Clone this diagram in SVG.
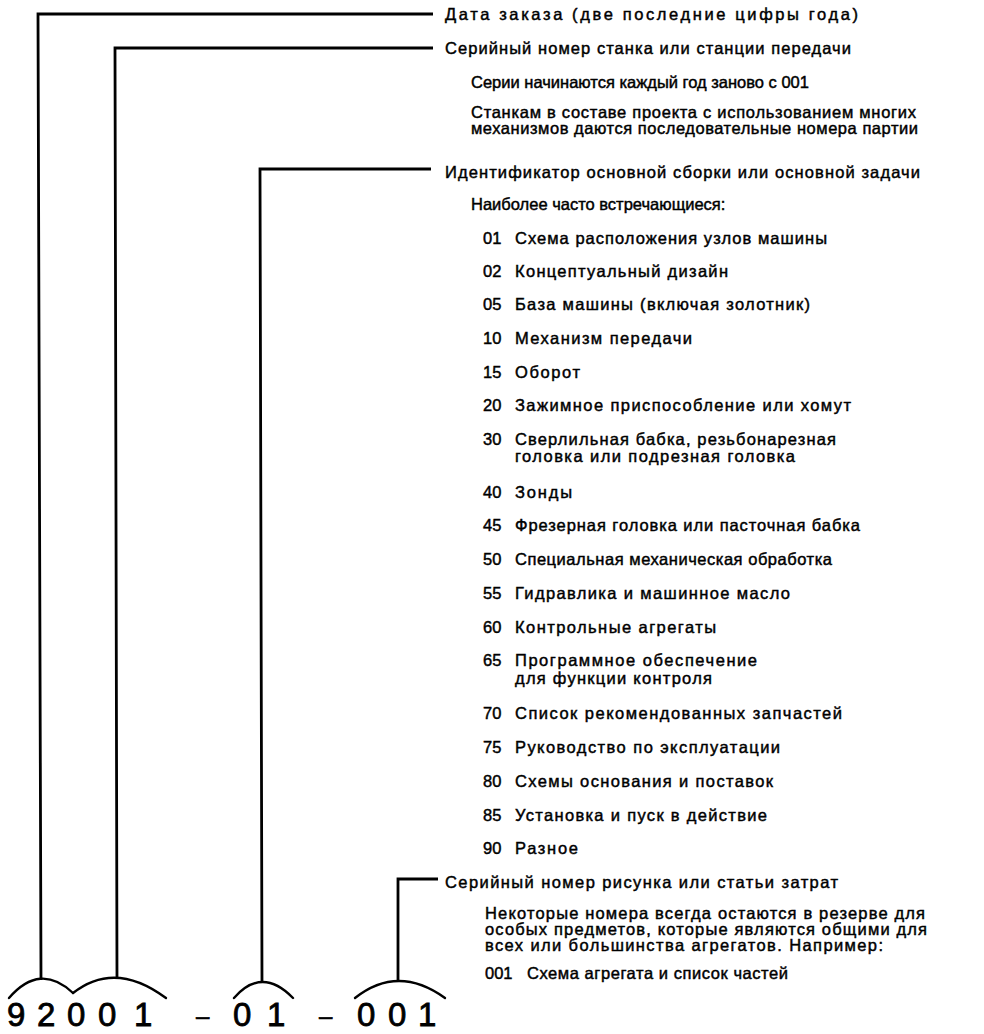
<svg xmlns="http://www.w3.org/2000/svg" width="984" height="1034" viewBox="0 0 984 1034">
  <style>
    .t { font-family: "Liberation Sans", Arial, sans-serif; font-size: 16.5px; fill: #000; stroke: #000; stroke-width: 0.45px; }
    .big { font-family: "Liberation Sans", Arial, sans-serif; font-size: 33px; fill: #000; stroke: #000; stroke-width: 0.8px; }
    .dash { font-family: "Liberation Sans", Arial, sans-serif; font-size: 24px; fill: #000; stroke: #000; stroke-width: 0.6px; }
    .ln { fill: none; stroke: #000; stroke-width: 2.8; stroke-linejoin: miter; stroke-linecap: butt; }
    .arc { fill: none; stroke: #000; stroke-width: 2.4; stroke-linecap: round; }
  </style>
  <rect width="984" height="1034" fill="#fff"/>

  <!-- brackets leading from the code digits to the explanations -->
  <g id="connectors">
    <polyline class="ln" points="433,14 38,14 41,980"/>
    <polyline class="ln" points="433,48 115,48 117,978"/>
    <polyline class="ln" points="431,169 260,169 262,982"/>
    <polyline class="ln" points="438,879 398,879 398,981"/>
    <path class="arc" d="M9,998 Q40,962 73,993"/>
    <path class="arc" d="M73,993 Q115,960 166,998"/>
    <path class="arc" d="M234,998 Q262,966 293,998"/>
    <path class="arc" d="M355,998 Q398,964 445,998"/>
  </g>

  <!-- the code itself -->
  <g id="code">
    <text class="big" x="7 37 67 98 134" y="1026">92001</text>
    <text class="dash" x="196" y="1024">–</text>
    <text class="big" x="233 267" y="1026">01</text>
    <text class="dash" x="319" y="1024">–</text>
    <text class="big" x="357 388 418" y="1026">001</text>
  </g>

  <g id="year">
    <text class="t" x="445" y="20" textLength="413" lengthAdjust="spacing">Дата заказа (две последние цифры года)</text>
  </g>

  <g id="serial">
    <text class="t" x="445" y="54" textLength="406" lengthAdjust="spacing">Серийный номер станка или станции передачи</text>
    <text class="t" x="471" y="88">Серии начинаются каждый год заново с 001</text>
    <text class="t" x="471" y="118" textLength="445" lengthAdjust="spacing">Станкам в составе проекта с использованием многих</text>
    <text class="t" x="471" y="134" textLength="447" lengthAdjust="spacing">механизмов даются последовательные номера партии</text>
  </g>

  <g id="assembly">
    <text class="t" x="445" y="178" textLength="475" lengthAdjust="spacing">Идентификатор основной сборки или основной задачи</text>
    <text class="t" x="471" y="210">Наиболее часто встречающиеся:</text>
    <text class="t" x="483" y="244">01</text><text class="t" x="515" y="244" textLength="312" lengthAdjust="spacing">Схема расположения узлов машины</text>
    <text class="t" x="483" y="277">02</text><text class="t" x="515" y="277" textLength="213" lengthAdjust="spacing">Концептуальный дизайн</text>
    <text class="t" x="483" y="310">05</text><text class="t" x="515" y="310" textLength="295" lengthAdjust="spacing">База машины (включая золотник)</text>
    <text class="t" x="483" y="344">10</text><text class="t" x="515" y="344" textLength="177" lengthAdjust="spacing">Механизм передачи</text>
    <text class="t" x="483" y="378">15</text><text class="t" x="515" y="378" textLength="65" lengthAdjust="spacing">Оборот</text>
    <text class="t" x="483" y="411">20</text><text class="t" x="515" y="411" textLength="336" lengthAdjust="spacing">Зажимное приспособление или хомут</text>
    <text class="t" x="483" y="445">30</text><text class="t" x="515" y="445" textLength="321" lengthAdjust="spacing">Сверлильная бабка, резьбонарезная</text>
    <text class="t" x="515" y="462" textLength="280" lengthAdjust="spacing">головка или подрезная  головка</text>
    <text class="t" x="483" y="498">40</text><text class="t" x="515" y="498" textLength="57" lengthAdjust="spacing">Зонды</text>
    <text class="t" x="483" y="531">45</text><text class="t" x="515" y="531" textLength="345" lengthAdjust="spacing">Фрезерная головка или пасточная бабка</text>
    <text class="t" x="483" y="565">50</text><text class="t" x="515" y="565" textLength="317" lengthAdjust="spacing">Специальная механическая обработка</text>
    <text class="t" x="483" y="599">55</text><text class="t" x="515" y="599" textLength="275" lengthAdjust="spacing">Гидравлика и машинное масло</text>
    <text class="t" x="483" y="633">60</text><text class="t" x="515" y="633" textLength="201" lengthAdjust="spacing">Контрольные агрегаты</text>
    <text class="t" x="483" y="666">65</text><text class="t" x="515" y="666" textLength="242" lengthAdjust="spacing">Программное обеспечение</text>
    <text class="t" x="515" y="684" textLength="197" lengthAdjust="spacing">для функции контроля</text>
    <text class="t" x="483" y="719">70</text><text class="t" x="515" y="719" textLength="327" lengthAdjust="spacing">Список рекомендованных запчастей</text>
    <text class="t" x="483" y="753">75</text><text class="t" x="515" y="753" textLength="265" lengthAdjust="spacing">Руководство по эксплуатации</text>
    <text class="t" x="483" y="787">80</text><text class="t" x="515" y="787" textLength="258" lengthAdjust="spacing">Схемы основания и поставок</text>
    <text class="t" x="483" y="821">85</text><text class="t" x="515" y="821" textLength="252" lengthAdjust="spacing">Установка и пуск в действие</text>
    <text class="t" x="483" y="854">90</text><text class="t" x="515" y="854" textLength="63" lengthAdjust="spacing">Разное</text>
  </g>

  <g id="drawing">
    <text class="t" x="445" y="888" textLength="393" lengthAdjust="spacing">Серийный номер рисунка или статьи затрат</text>
    <text class="t" x="485" y="919" textLength="440" lengthAdjust="spacing">Некоторые номера всегда остаются в резерве для</text>
    <text class="t" x="485" y="935" textLength="442" lengthAdjust="spacing">особых предметов, которые являются общими для</text>
    <text class="t" x="485" y="951" textLength="398" lengthAdjust="spacing">всех или большинства агрегатов. Например:</text>
    <text class="t" x="485" y="979">001</text><text class="t" x="527" y="979" textLength="261" lengthAdjust="spacing">Схема агрегата и список частей</text>
  </g>
</svg>
